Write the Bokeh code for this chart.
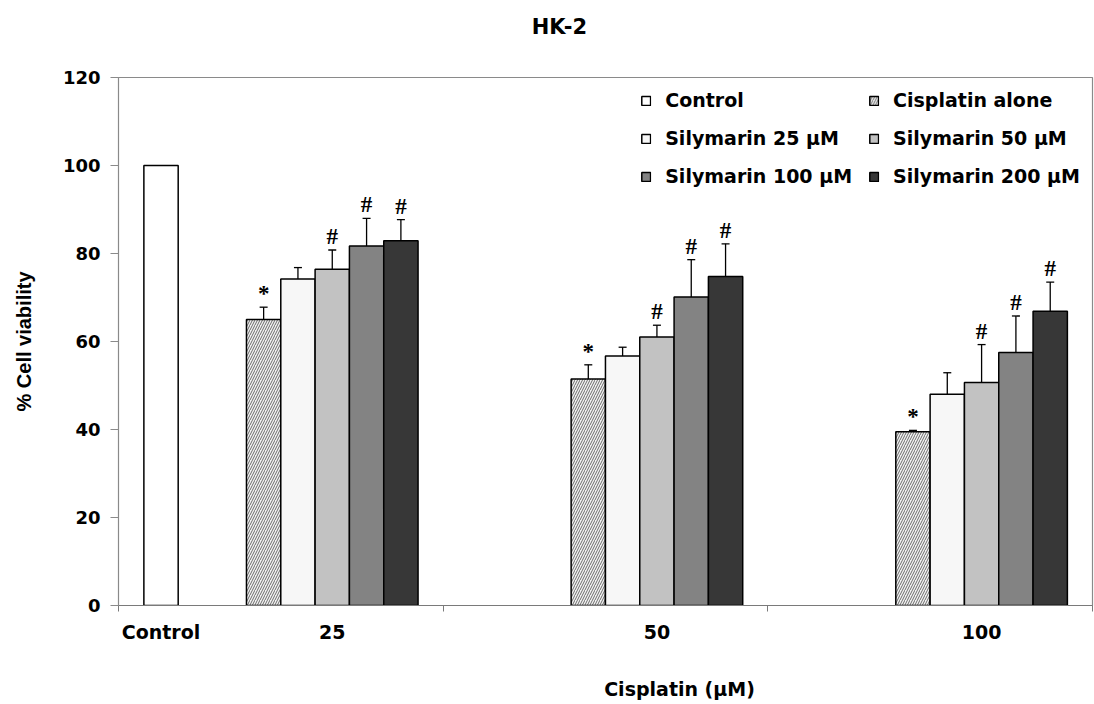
from bokeh.plotting import figure
from bokeh.models import (Range1d, FixedTicker, Whisker, TeeHead, ColumnDataSource,
                          Legend, LegendItem, Label, CustomJSTickFormatter)
from bokeh.core.properties import value
from bokeh.embed import file_html
from bokeh.resources import INLINE

# ---------------- data ----------------
categories = ["Control", "25", "50", "100"]
series_names = ["Cisplatin alone", "Silymarin 25 µM", "Silymarin 50 µM",
                "Silymarin 100 µM", "Silymarin 200 µM"]
control_value = [100.0]
cisplatin_alone = [65.0, 51.5, 39.5]
silymarin_25 = [74.2, 56.7, 48.0]
silymarin_50 = [76.4, 61.0, 50.7]
silymarin_100 = [81.7, 70.1, 57.5]
silymarin_200 = [82.9, 74.8, 66.9]
cisplatin_sd = [2.8, 3.2, 0.3]
silymarin_25_sd = [2.6, 2.0, 4.9]
silymarin_50_sd = [4.4, 2.7, 8.6]
silymarin_100_sd = [6.3, 8.5, 8.3]
silymarin_200_sd = [4.8, 7.4, 6.6]
significance = ["*", "", "#", "#", "#"]
y_ticks = [0, 20, 40, 60, 80, 100, 120]

# ---------------- layout constants ----------------
FONT = "DejaVu Sans"
CAT_W = 1.0
BAR_W = 0.1057
CTRL_X = 0.131
GROUP_X0 = 0.447
fills = ["#f2f2f2", "#f7f7f7", "#c2c2c2", "#838383", "#373737"]

p = figure(width=1094, height=704, x_range=Range1d(0, 3), y_range=Range1d(0, 120),
           output_backend="svg", toolbar_location=None,
           min_border_left=118, min_border_right=2, min_border_top=77, min_border_bottom=99)
p.background_fill_color = "white"
p.border_fill_color = "white"
p.outline_line_color = "#8a8a8a"
p.outline_line_width = 1.2
p.xgrid.visible = False
p.ygrid.visible = False

# control bar
ctrl_src = ColumnDataSource(dict(x=[CTRL_X], top=control_value))
r_ctrl = p.vbar(x="x", top="top", width=BAR_W, source=ctrl_src, fill_color="white",
                line_color="black", line_width=1.5)

series_values = [cisplatin_alone, silymarin_25, silymarin_50, silymarin_100, silymarin_200]
series_sds = [cisplatin_sd, silymarin_25_sd, silymarin_50_sd, silymarin_100_sd, silymarin_200_sd]
renderers = []
for k, (vals, sds) in enumerate(zip(series_values, series_sds)):
    xs = [c * CAT_W + GROUP_X0 + k * BAR_W for c in range(len(vals))]
    src = ColumnDataSource(dict(
        x=xs, top=vals,
        upper=[v + s for v, s in zip(vals, sds)],
        lower=[v - s for v, s in zip(vals, sds)],
        mark=[significance[k]] * len(vals)))
    kw = dict(fill_color=fills[k], line_color="black", line_width=1.5)
    if k == 0:
        kw.update(hatch_pattern="/", hatch_color="#5a5a5a", hatch_scale=5, hatch_weight=0.9)
    r = p.vbar(x="x", top="top", width=BAR_W, source=src, **kw)
    renderers.append(r)
    w = Whisker(base="x", upper="upper", lower="lower", source=src,
                line_color="black", line_width=1.3,
                upper_head=TeeHead(size=8, line_color="black", line_width=1.3),
                lower_head=TeeHead(size=8, line_color="black", line_width=1.3))
    p.add_layout(w)
    if significance[k]:
        p.text(x="x", y="upper", text="mark", source=src, text_align="center",
               text_baseline="bottom", y_offset=-1, text_font=value("Liberation Serif"),
               text_font_style="bold", text_font_size="23px", text_color="black")

# axes
p.yaxis.ticker = FixedTicker(ticks=y_ticks)
p.yaxis.axis_line_color = "#8a8a8a"
p.yaxis.major_tick_line_color = "#8a8a8a"
p.yaxis.major_tick_in = 0
p.yaxis.major_tick_out = 8
p.yaxis.minor_tick_line_color = None
p.yaxis.major_label_standoff = 10
p.yaxis.major_label_text_font = FONT
p.yaxis.major_label_text_font_style = "bold"
p.yaxis.major_label_text_font_size = "18px"
p.yaxis.major_label_text_color = "black"
p.yaxis.axis_label = "% Cell viability"
p.yaxis.axis_label_text_font = "Liberation Sans"
p.yaxis.axis_label_text_font_style = "bold"
p.yaxis.axis_label_text_font_size = "20px"
p.yaxis.axis_label_text_color = "black"
p.yaxis.axis_label_standoff = 25

group_centers = [CTRL_X] + [c * CAT_W + GROUP_X0 + 2 * BAR_W for c in range(3)]
p.xaxis.ticker = FixedTicker(ticks=group_centers, minor_ticks=[0, 1, 2, 3])
p.xaxis.formatter = CustomJSTickFormatter(args=dict(labels=categories), code="return labels[index]")
p.xaxis.axis_line_color = "#7a7a7a"
p.xaxis.axis_line_width = 1.2
p.xaxis.major_tick_line_color = None
p.xaxis.minor_tick_line_color = "#7a7a7a"
p.xaxis.minor_tick_in = 0
p.xaxis.minor_tick_out = 6
p.xaxis.major_label_standoff = 9
p.xaxis.major_label_text_font = FONT
p.xaxis.major_label_text_font_style = "bold"
p.xaxis.major_label_text_font_size = "19px"
p.xaxis.major_label_text_color = "black"

# titles: labels placed in side panels so they are not clipped to the frame
p.add_layout(Label(x=1.728, y=-18.9, text="Cisplatin (µM)", text_align="center",
                   text_baseline="middle", text_font=FONT, text_font_style="bold",
                   text_font_size="19px", text_color="black"), "below")
p.add_layout(Label(x=1.358, y=131.4, text="HK-2", text_align="center",
                   text_baseline="middle", text_font=FONT, text_font_style="bold",
                   text_font_size="21px", text_color="black"), "above")

# legend (column-major filling -> order items so rows read left to right)
all_items = [LegendItem(label="Control", renderers=[r_ctrl])]
for name, r in zip(series_names, renderers):
    all_items.append(LegendItem(label=name, renderers=[r]))
items = [all_items[i] for i in (0, 2, 4, 1, 3, 5)]
legend = Legend(items=items, ncols=2, location="top_right", margin=12, padding=4,
                spacing=16, glyph_width=11, glyph_height=11, label_standoff=14,
                label_text_font=FONT, label_text_font_style="bold",
                label_text_font_size="19px", label_text_color="black",
                border_line_color=None, background_fill_alpha=0)
p.add_layout(legend)

open("out.html", "w").write(file_html(p, INLINE))
